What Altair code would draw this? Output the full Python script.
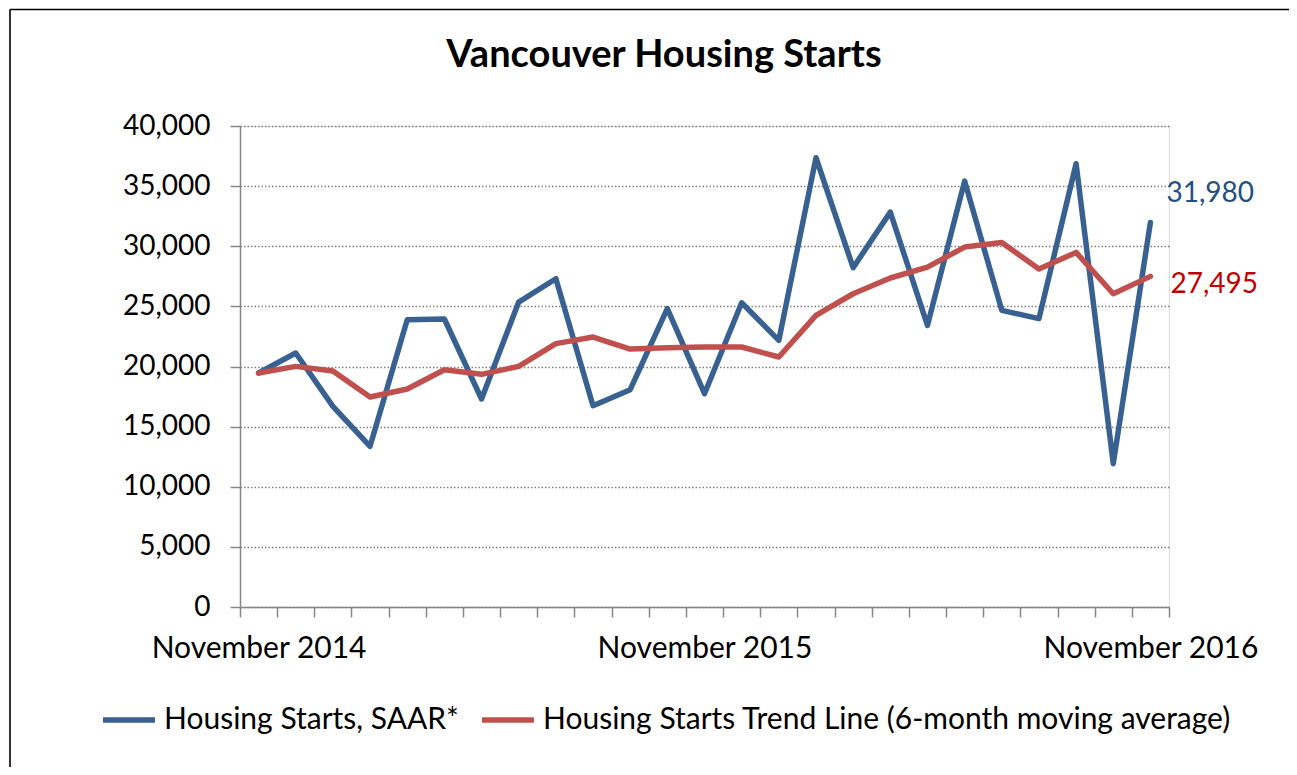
import altair as alt
import pandas as pd

months = [
    "November 2014", "December 2014", "January 2015", "February 2015", "March 2015",
    "April 2015", "May 2015", "June 2015", "July 2015", "August 2015",
    "September 2015", "October 2015", "November 2015", "December 2015", "January 2016",
    "February 2016", "March 2016", "April 2016", "May 2016", "June 2016",
    "July 2016", "August 2016", "September 2016", "October 2016", "November 2016",
]
starts = [19460, 21120, 16690, 13360, 23890, 23950, 17300, 25360, 27300, 16740,
          18070, 24810, 17740, 25300, 22170, 37360, 28220, 32840, 23420, 35420,
          24670, 23980, 36860, 11920, 31980]
trend = [19460, 20010, 19620, 17460, 18130, 19730, 19350, 20010, 21900, 22450,
         21450, 21560, 21620, 21620, 20790, 24250, 26050, 27360, 28270, 29930,
         30320, 28100, 29490, 26050, 27495]
series_names = ["Housing Starts, SAAR*",
                "Housing Starts Trend Line (6-month moving average)"]
line_colors = ["#386192", "#C0504D"]
title_text = "Vancouver Housing Starts"

FONT = "Lato"

rows = []
for m, v in zip(months, starts):
    rows.append({"month": m, "series": series_names[0], "value": v})
for m, v in zip(months, trend):
    rows.append({"month": m, "series": series_names[1], "value": v})
df = pd.DataFrame(rows)

last_df = pd.DataFrame({
    "month": [months[-1], months[-1]],
    "value": [starts[-1], trend[-1]],
    "label": [f"{starts[-1]:,}", f"{trend[-1]:,}"],
    "which": ["starts", "trend"],
})
one = pd.DataFrame({"k": [0]})

x_enc = alt.X(
    "month:O",
    sort=months,
    scale=alt.Scale(type="band", domain=months, paddingInner=0, paddingOuter=0),
    bandPosition=0.5,
    axis=alt.Axis(
        title=None,
        labelExpr="indexof(datum.label, 'November') == 0 ? datum.label : ''",
        labelAngle=0,
        tickBand="extent",
        tickSize=10,
        tickColor="#868686",
        tickWidth=1.5,
        domainColor="#868686",
        domainWidth=1.5,
        labelFont=FONT,
        labelFontSize=30,
        labelColor="#000000",
        labelPadding=16,
        labelBaseline="top",
        labelOverlap=False,
        labelLimit=500,
        grid=False,
    ),
)
y_scale = alt.Scale(domain=[0, 40000], nice=False)
y_enc = alt.Y(
    "value:Q",
    scale=y_scale,
    axis=alt.Axis(
        title=None,
        values=list(range(0, 40001, 5000)),
        format=",.0f",
        tickSize=10,
        tickColor="#868686",
        tickWidth=1.5,
        domainColor="#868686",
        domainWidth=1.5,
        labelFont=FONT,
        labelFontSize=28,
        labelColor="#000000",
        labelPadding=20,
        grid=True,
        gridColor="#7f7f7f",
        gridDash=[1.5, 2],
        gridWidth=1.3,
    ),
)

lines = alt.Chart(df).mark_line(strokeWidth=5.5, strokeJoin="round", strokeCap="round").encode(
    x=x_enc,
    y=y_enc,
    color=alt.Color(
        "series:N",
        scale=alt.Scale(domain=series_names, range=line_colors),
        sort=series_names,
        legend=alt.Legend(
            title=None,
            orient="none",
            legendX=-140,
            legendY=565,
            direction="horizontal",
            symbolType="stroke",
            symbolSize=2700,
            symbolStrokeWidth=5.5,
            labelFont=FONT,
            labelFontSize=30,
            labelColor="#000000",
            labelLimit=900,
            labelOffset=6,
            columnPadding=12,
            padding=0,
        ),
    ),
    detail="series:N",
)

lbl_blue = alt.Chart(last_df).transform_filter(alt.datum.which == "starts").mark_text(
    align="left", baseline="alphabetic", dx=16, dy=-20, font=FONT, fontSize=28, color="#244F82"
).encode(
    x=alt.X("month:O", sort=months, bandPosition=0.5),
    y=alt.Y("value:Q", scale=y_scale),
    text="label:N",
)
lbl_red = alt.Chart(last_df).transform_filter(alt.datum.which == "trend").mark_text(
    align="left", baseline="alphabetic", dx=20, dy=17, font=FONT, fontSize=28, color="#C00000"
).encode(
    x=alt.X("month:O", sort=months, bandPosition=0.5),
    y=alt.Y("value:Q", scale=y_scale),
    text="label:N",
)

title = alt.Chart(one).mark_text(
    align="center", baseline="alphabetic", font=FONT, fontSize=38, fontWeight="bold", color="#000000"
).encode(
    x=alt.value(424),
    y=alt.value(-59),
    text=alt.value(title_text),
)

border_top = alt.Chart(one).mark_rule(color="#000000", strokeWidth=1.6).encode(
    x=alt.value(-230), x2=alt.value(1100), y=alt.value(-116.5)
)
border_left = alt.Chart(one).mark_rule(color="#000000", strokeWidth=1.6).encode(
    x=alt.value(-230), y=alt.value(-116.5), y2=alt.value(700)
)

chart = alt.layer(
    border_top, border_left, title, lines, lbl_blue, lbl_red
).properties(
    width=929,
    height=481,
    autosize=alt.AutoSizeParams(type="none"),
    padding={"left": 232, "top": 118, "right": 120, "bottom": 160},
).configure_view(stroke=None).configure(background="#ffffff")

chart.save("out.html", embed_options={"renderer": "svg", "actions": False})
